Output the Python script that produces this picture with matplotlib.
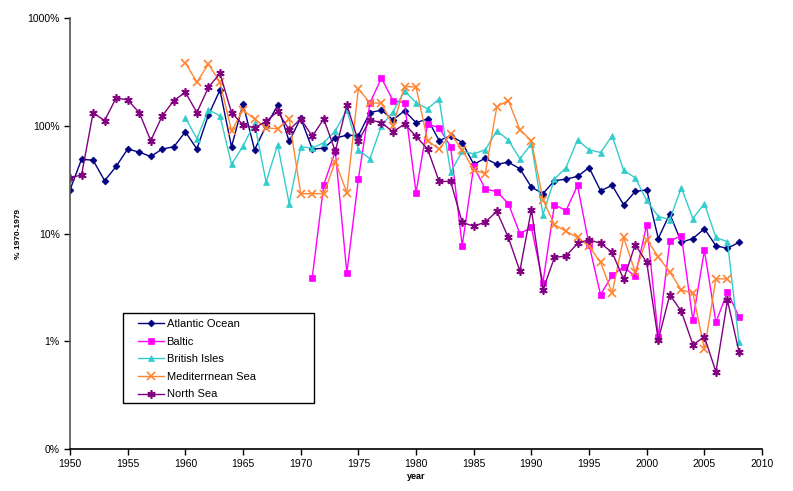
import matplotlib.pyplot as plt
import matplotlib.ticker as mticker
from matplotlib.patches import Rectangle
import numpy as np

plt.rcParams['font.family'] = ['Liberation Sans', 'DejaVu Sans']

# years
anos_todos = list(range(1950, 2009))
anos_baltic = list(range(1971, 2009))
anos_british = list(range(1960, 2009))
anos_med = list(range(1960, 2008))

# % 1970-1979
atlantic = [25.5, 49, 48, 31, 42, 61, 57, 52, 61, 64,
            88, 61, 126, 215, 64, 160, 60, 100, 155, 72,
            118, 61, 62, 77, 82, 81, 133, 140, 114, 138,
            107, 116, 73, 81, 70, 44, 50, 44, 46, 40,
            27, 23.5, 31, 32, 34, 41, 25, 28, 18.5, 24.6,
            25.5, 9, 15.3, 8.3, 9, 11.1, 7.7, 7.3, 8.3]
baltic = [3.9, 28.5, 58, 4.3, 32, 163, 278, 172, 164,
          24, 104, 96, 64, 7.7, 42, 26, 24.5, 19, 10,
          11.4, 3.5, 18.6, 16.3, 28, 7.9, 2.7, 4.1, 4.9, 4.0,
          12.1, 1.1, 8.5, 9.6, 1.57, 7.0, 1.5, 2.9, 1.67]
british = [119, 76, 141, 124, 44, 65, 106, 30, 67, 19,
           64, 62, 70, 90, 141, 60, 49.5, 100, 135, 212,
           164, 144, 178, 37, 58, 55, 60, 90, 74, 49.5,
           68, 15, 32, 41, 74, 60, 56.6, 81, 38.6, 33,
           20.3, 14.4, 13.5, 26.7, 13.8, 19, 9.2, 8.4, 0.98]
med = [385, 255, 375, 255, 90, 140, 116, 96, 94, 116,
       23.5, 23.5, 23.5, 46.6, 24, 222, 163, 163, 100, 232,
       230, 73, 61, 84, 60, 39, 36, 151, 172, 92,
       73, 20.6, 12.1, 10.5, 9.2, 7.6, 5.4, 2.8, 9.2, 4.4,
       8.8, 6.1, 4.4, 3.0, 2.8, 0.84, 3.8, 3.8]
north = [33, 35, 132, 112, 182, 174, 133, 73, 124, 172,
         205, 133, 228, 307, 133, 102, 96, 110, 136, 92,
         116, 80, 116, 58, 156, 72, 114, 107, 88, 104,
         80, 61, 30.5, 30.5, 12.7, 11.7, 12.8, 16.1, 9.2, 4.5,
         16.7, 3.0, 6.0, 6.2, 8.1, 8.8, 8.1, 6.7, 3.75, 7.9,
         5.4, 1.03, 2.7, 1.9, 0.93, 1.1, 0.52, 2.4, 0.8]

series = [
    (anos_todos, atlantic, 'Atlantic Ocean', '#000080', 'D', 3.5),
    (anos_baltic, baltic, 'Baltic', '#FF00FF', 's', 5),
    (anos_british, british, 'British Isles', '#33CCCC', '^', 5),
    (anos_med, med, 'Mediterrnean Sea', '#FF8533', 'x', 6),
    (anos_todos, north, 'North Sea', '#800080', (6, 2, 0), 6),
]

fig = plt.figure(figsize=(7.93, 4.91), dpi=100)
ax = fig.add_axes([0.0883, 0.0855, 0.8727, 0.8775])

for x, y, nome, cor, mk, ms in series:
    fino = mk == 'x' or isinstance(mk, tuple)
    ax.plot(x, y, color=cor, marker=mk, markersize=ms, linewidth=1,
            markeredgewidth=1.2 if fino else 0.5, label=nome)

ax.set_yscale('log')
ax.set_ylim(0.1, 1000)
ax.set_xlim(1950, 2010)
ax.set_yticks([0.1, 1, 10, 100, 1000])
ax.set_yticklabels(['0%', '1%', '10%', '100%', '1000%'])
ax.yaxis.set_minor_locator(mticker.NullLocator())
ax.set_xticks(np.arange(1950, 2011, 5))
ax.tick_params(labelsize=7.5, length=4, width=1)

ax.spines['top'].set_visible(False)
ax.spines['right'].set_visible(False)
ax.spines['left'].set_linewidth(1.2)
ax.spines['left'].set_color('#555555')
ax.spines['bottom'].set_linewidth(1.2)

ax.set_xlabel('year', fontsize=6.5, fontweight='bold', labelpad=2)
ax.set_ylabel('% 1970-1979', fontsize=6, fontweight='bold', labelpad=4)

# legend box drawn separately (Excel style, wider than its text)
ax.add_patch(Rectangle((0.077, 0.107), 0.275, 0.209, transform=ax.transAxes,
                       fill=True, facecolor='white', edgecolor='black',
                       linewidth=1, zorder=4))
leg = ax.legend(loc='upper left', bbox_to_anchor=(0.093, 0.309), fontsize=8,
                frameon=False, borderpad=0.3, labelspacing=0.68,
                handlelength=2.4, handletextpad=0.2, borderaxespad=0)
leg.set_zorder(5)

fig.savefig('out.png', dpi=100)
